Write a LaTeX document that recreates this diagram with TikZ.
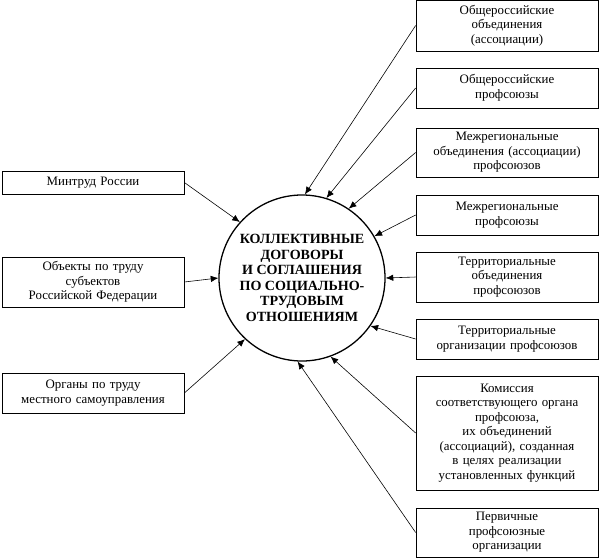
\documentclass[tikz,border=0pt]{standalone}
\usepackage{fontspec}
\setmainfont{Liberation Serif}
\usetikzlibrary{arrows.meta}
\tikzset{
  box/.style={draw, line width=0.6pt, fill=white, text width=5.2cm, align=center,
    minimum width=5.46cm, inner xsep=2pt, inner ysep=0pt,
    font=\fontsize{11}{12.4}\selectfont},
  hub/.style={draw, line width=1.1pt, circle, minimum size=4.98cm, inner sep=0pt,
    align=center, font=\fontsize{12}{13.3}\selectfont\bfseries},
}
\begin{document}
\begin{tikzpicture}[x=0.03cm, y=-0.03cm, >={Latex[length=6.5pt,width=5.5pt]}, line width=0.5pt]
  \useasboundingbox (0,0) rectangle (600,559);
  \node[hub] (hub) at (302,278) {КОЛЛЕКТИВНЫЕ\\ДОГОВОРЫ\\И СОГЛАШЕНИЯ\\ПО СОЦИАЛЬНО-\\ТРУДОВЫМ\\ОТНОШЕНИЯМ};
  % left column
  \node[box, minimum height=0.69cm] (mintrud) at (93,182.5) {Минтруд России};
  \node[box, minimum height=1.5cm] (subjrf) at (93,282) {Объекты по труду\\субъектов\\Российской Федерации};
  \node[box, minimum height=1.2cm] (mestn) at (93,393) {Органы по труду\\местного самоуправления};
  % right column
  \node[box, minimum height=1.53cm] (obassoc) at (507,25.5) {Общероссийские\\объединения\\(ассоциации)};
  \node[box, minimum height=1.2cm] (obprof) at (507,88) {Общероссийские\\профсоюзы};
  \node[box, minimum height=1.47cm] (mrassoc) at (507,152.5) {Межрегиональные\\объединения (ассоциации)\\профсоюзов};
  \node[box, minimum height=1.2cm] (mrprof) at (507,215) {Межрегиональные\\профсоюзы};
  \node[box, minimum height=1.5cm] (terob) at (507,277) {Территориальные\\объединения\\профсоюзов};
  \node[box, minimum height=1.2cm] (terorg) at (507,339) {Территориальные\\организации профсоюзов};
  \node[box, minimum height=3.42cm] (komis) at (507,433) {Комиссия\\соответствующего органа\\профсоюза,\\их объединений\\(ассоциаций), созданная\\в целях реализации\\установленных функций};
  \node[box, minimum height=1.47cm] (pervich) at (507,532.5) {Первичные\\профсоюзные\\организации};
  % arrows
  \draw[->] (mintrud.east) -- (hub.138);
  \draw[->] (subjrf.east) -- (hub.180);
  \draw[->] (mestn.east) -- (hub.227);
  \draw[->] (obassoc.west) -- (hub.88);
  \draw[->] (obprof.west) -- (hub.73);
  \draw[->] (mrassoc.west) -- (hub.56);
  \draw[->] (mrprof.west) -- (hub.30);
  \draw[->] (terob.west) -- (hub.0);
  \draw[->] (terorg.west) -- (hub.-35);
  \draw[->] (komis.west) -- (hub.-70);
  \draw[->] (pervich.west) -- (hub.-93);
\end{tikzpicture}
\end{document}
